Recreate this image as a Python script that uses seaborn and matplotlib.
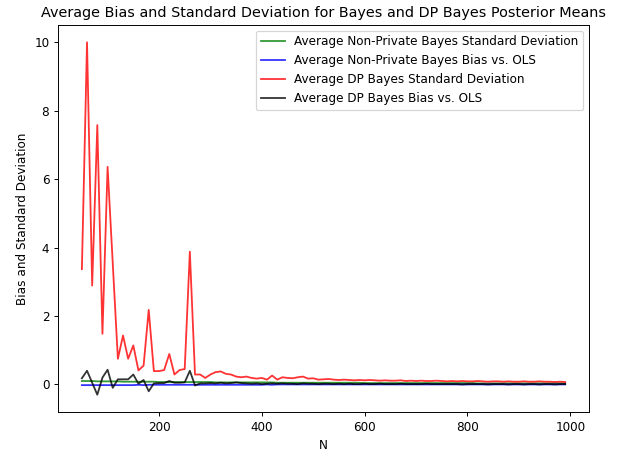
import numpy as np
import pandas as pd
import matplotlib
matplotlib.use("Agg")
import matplotlib.pyplot as plt
import seaborn as sns

N = list(range(50, 1000, 10))

np_std = [0.10, 0.10, 0.10, 0.09, 0.09, 0.09, 0.09, 0.09, 0.08, 0.08,
          0.08, 0.08, 0.08, 0.08, 0.08, 0.07, 0.07, 0.07, 0.07, 0.07,
          0.07, 0.07, 0.07, 0.07, 0.07, 0.07, 0.06, 0.06, 0.06, 0.06,
          0.06, 0.06, 0.06, 0.06, 0.06, 0.06, 0.06, 0.06, 0.05, 0.05,
          0.05, 0.05, 0.05, 0.05, 0.05, 0.05, 0.05, 0.05, 0.05, 0.05,
          0.05, 0.05, 0.05, 0.05, 0.05, 0.04, 0.04, 0.04, 0.04, 0.04,
          0.04, 0.04, 0.04, 0.04, 0.04, 0.04, 0.04, 0.04, 0.04, 0.04,
          0.04, 0.04, 0.04, 0.04, 0.04, 0.04, 0.04, 0.03, 0.03, 0.03,
          0.03, 0.03, 0.03, 0.03, 0.03, 0.03, 0.03, 0.03, 0.03, 0.03,
          0.03, 0.03, 0.03, 0.03, 0.03]

np_bias = [-0.02, -0.02, -0.02, -0.02, -0.02, -0.02, -0.02, -0.02, -0.02, -0.02,
           -0.02, -0.01, -0.02, -0.01, -0.01, -0.01, -0.01, -0.01, -0.01, -0.01,
           -0.01, -0.01, -0.01, -0.01, -0.01, -0.01, -0.01, -0.01, -0.01, -0.01,
           -0.01, -0.01, -0.01, -0.01, -0.01, -0.01, 0.00, -0.01, 0.00, 0.00,
           0.00, 0.00, 0.00, 0.00, 0.00, 0.00, 0.00, 0.00, 0.00, 0.00,
           0.00, 0.00, 0.00, 0.00, 0.00, 0.00, 0.00, 0.00, 0.00, 0.00,
           0.00, 0.00, 0.00, 0.00, 0.00, 0.00, 0.00, 0.00, 0.00, 0.00,
           0.00, 0.00, 0.00, 0.00, 0.00, 0.00, 0.00, 0.00, 0.00, 0.00,
           0.00, 0.00, 0.00, 0.00, 0.00, 0.00, 0.00, 0.00, 0.00, 0.00,
           0.00, 0.00, 0.00, 0.00, 0.00]

dp_std = [3.37, 10.00, 2.89, 7.58, 1.48, 6.36, 3.55, 0.75, 1.43, 0.75,
          1.14, 0.41, 0.55, 2.18, 0.39, 0.39, 0.42, 0.89, 0.29, 0.42,
          0.45, 3.88, 0.29, 0.29, 0.19, 0.29, 0.36, 0.38, 0.31, 0.29,
          0.23, 0.21, 0.23, 0.19, 0.17, 0.19, 0.14, 0.26, 0.14, 0.21,
          0.19, 0.18, 0.21, 0.23, 0.17, 0.18, 0.14, 0.15, 0.16, 0.14,
          0.13, 0.14, 0.13, 0.12, 0.13, 0.12, 0.13, 0.12, 0.11, 0.12,
          0.11, 0.11, 0.12, 0.10, 0.11, 0.10, 0.11, 0.10, 0.10, 0.11,
          0.10, 0.09, 0.10, 0.09, 0.10, 0.09, 0.09, 0.10, 0.09, 0.08,
          0.09, 0.09, 0.08, 0.09, 0.08, 0.08, 0.09, 0.08, 0.08, 0.09,
          0.08, 0.08, 0.07, 0.08, 0.07]

dp_bias = [0.18, 0.40, 0.05, -0.30, 0.20, 0.43, -0.10, 0.15, 0.15, 0.15,
           0.29, 0.02, 0.13, -0.20, 0.03, 0.04, 0.04, 0.10, 0.05, 0.05,
           0.06, 0.40, -0.03, 0.03, 0.03, 0.04, 0.03, 0.05, 0.03, 0.04,
           0.06, 0.04, 0.03, 0.02, 0.03, 0.01, 0.02, 0.03, 0.02, 0.03,
           0.02, 0.02, 0.01, 0.03, 0.02, 0.02, 0.01, 0.02, 0.02, 0.01,
           0.02, 0.01, 0.02, 0.01, 0.01, 0.02, 0.01, 0.01, 0.02, 0.01,
           0.01, 0.01, 0.02, 0.01, 0.01, 0.01, 0.01, 0.02, 0.01, 0.01,
           0.01, 0.01, 0.01, 0.01, 0.00, 0.01, 0.01, 0.01, 0.01, 0.00,
           0.01, 0.01, 0.01, 0.00, 0.01, 0.01, 0.00, 0.01, 0.01, 0.00,
           0.01, 0.01, 0.00, 0.01, 0.01]

labels = ["Average Non-Private Bayes Standard Deviation",
          "Average Non-Private Bayes Bias vs. OLS",
          "Average DP Bayes Standard Deviation",
          "Average DP Bayes Bias vs. OLS"]
colors = ["green", "blue", "red", "black"]

DPI = 86.4
fig = plt.figure(figsize=(618 / DPI, 453 / DPI), dpi=DPI)
ax = fig.add_axes([0.0934, 0.0898, 0.9536 - 0.0934, 0.9455 - 0.0898])

for y, lab, col in zip([np_std, np_bias, dp_std, dp_bias], labels, colors):
    sns.lineplot(x=N, y=y, label=lab, color=col, alpha=0.8, linewidth=1.5, ax=ax)

ax.set_title("Average Bias and Standard Deviation for Bayes and DP Bayes Posterior Means", fontsize=12)
ax.set_xlabel("N", fontsize=10)
ax.set_ylabel("Bias and Standard Deviation", fontsize=10)
ax.tick_params(labelsize=10)
ax.legend(loc="upper right", fontsize=10)

fig.savefig("out.png", dpi=DPI)
